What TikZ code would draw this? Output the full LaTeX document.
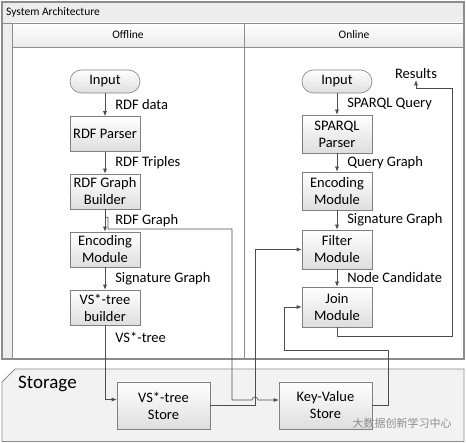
\documentclass[tikz,border=0pt]{standalone}
\usepackage{fontspec}
\setmainfont{Carlito}
\setsansfont{Carlito}
\newfontfamily\cjkfont{Noto Sans CJK SC}
\usetikzlibrary{arrows.meta,positioning,calc}
\colorlet{frameGray}{black!45}
\colorlet{boxGray}{black!50}
\colorlet{lineGray}{black!70}
\tikzset{
  >=Latex,
  font=\sffamily,
  % flowchart boxes with a soft vertical gradient
  module/.style={
    draw=boxGray,
    line width=0.6pt,
    top color=white,
    bottom color=black!13,
    minimum width=70pt,
    minimum height=35pt,
    inner sep=1pt,
    align=center,
    font=\fontsize{14.5}{17}\selectfont
  },
  terminal/.style={
    module,
    rounded corners=11.5pt,
    minimum height=23pt
  },
  flow/.style={
    -{Latex[length=5pt,width=4pt]},
    line width=0.6pt,
    draw=lineGray
  },
  lbl/.style={
    anchor=west,
    inner sep=0pt,
    xshift=10pt,
    font=\fontsize{14.5}{17}\selectfont
  },
  hdr/.style={
    font=\fontsize{11.5}{13}\selectfont,
    inner sep=0pt
  }
}
\begin{document}
\begin{tikzpicture}[x=1pt,y=-1pt]
\useasboundingbox (0,0) rectangle (466,443);

% swimlane frame
\fill[black!7] (2,2) rectangle (464,23);
\fill[black!7] (2,23) rectangle (12,359);
\shade[top color=white,bottom color=black!8] (12,23) rectangle (464,47);
\draw[frameGray, line width=0.6pt] (12,23) rectangle (244,359) (244,23) rectangle (464,359)
  (12,47) -- (464,47) (2,23) -- (464,23);
\draw[frameGray, line width=1.2pt] (2,2) rectangle (464,359);
\node[hdr, anchor=west] (title) at (6,12.5) {System Architecture};
\node[hdr] (offline) at (128,35) {Offline};
\node[hdr] (online) at (354,35) {Online};

% storage band
\draw[frameGray, fill=black!5, line width=0.8pt] (2,382) -- (15,369) -- (464,369) -- (464,441.5) -- (2,441.5) -- cycle;
\node[anchor=west, inner sep=0pt, font=\fontsize{19}{21}\selectfont] (storage) at (18,384) {Storage};

% offline lane
\node[terminal] (inL) at (105,81.5) {Input};
\node[module] (parserL) at (105,134) {RDF Parser};
\node[module] (builder) at (105,191.5) {RDF Graph\\Builder};
\node[module] (encL) at (105,249.5) {Encoding\\Module};
\node[module] (vsb) at (105,307.5) {VS*-tree\\builder};

% online lane
\node[terminal] (inR) at (337,81.5) {Input};
\node[module, minimum height=38pt] (parserR) at (337,134) {SPARQL\\Parser};
\node[module, minimum height=38pt] (encR) at (337,191) {Encoding\\Module};
\node[module, minimum height=39pt] (filter) at (337,249.5) {Filter\\Module};
\node[module, minimum height=40pt] (join) at (337,307) {Join\\Module};
\node[inner sep=1pt, font=\fontsize{14.5}{17}\selectfont] (results) at (416,74) {Results};

% storage nodes
\node[module, minimum width=93pt, minimum height=47pt] (vss) at (163.5,405.5) {VS*-tree\\Store};
\node[module, minimum width=93pt, minimum height=47pt] (kv) at (325.5,405.5) {Key-Value\\Store};

\coordinate (gbend) at (232,229);
\coordinate (hop) at (255,400);
\coordinate (kvturn) at (388,350);
\coordinate (jturn) at (284,350);
\coordinate (rturn) at (452,88);

% offline flow
\draw[flow] (inL) -- node[lbl] {RDF data} (parserL);
\draw[flow] (parserL) -- node[lbl] {RDF Triples} (builder);
\draw[flow] (builder) -- node[lbl] {RDF Graph} (encL);
\draw[flow] (encL) -- node[lbl] {Signature Graph} (vsb);
\draw[flow] (vsb.south) |- node[lbl, pos=0.08] {VS*-tree} ([yshift=6pt]vss.west);
\draw[flow] ([yshift=-8pt]builder.south) -- ++(3,0) |- (gbend) |- ([xshift=-3pt]hop)
  arc[start angle=180, end angle=0, radius=3pt] -- (hop -| kv.west);

% online flow
\draw[flow] (inR) -- node[lbl] {SPARQL Query} (parserR);
\draw[flow] (parserR) -- node[lbl] {Query Graph} (encR);
\draw[flow] (encR) -- node[lbl] {Signature Graph} (filter);
\draw[flow] (filter) -- node[lbl] {Node Candidate} (join);
\draw[flow] (join.south) -- ++(0,9) -| (rturn) -| (results.south);

% storage to online
\draw[flow] (vss.east) -- (vss.east -| hop) |- (filter.west);
\draw[flow] (kv.east) -| (kvturn) -- (jturn) |- (join.west);

\node[text=black!45, inner sep=0pt, font=\cjkfont\fontsize{11}{12}\selectfont] (mark) at (402,423) {大数据创新学习中心};

\end{tikzpicture}
\end{document}
